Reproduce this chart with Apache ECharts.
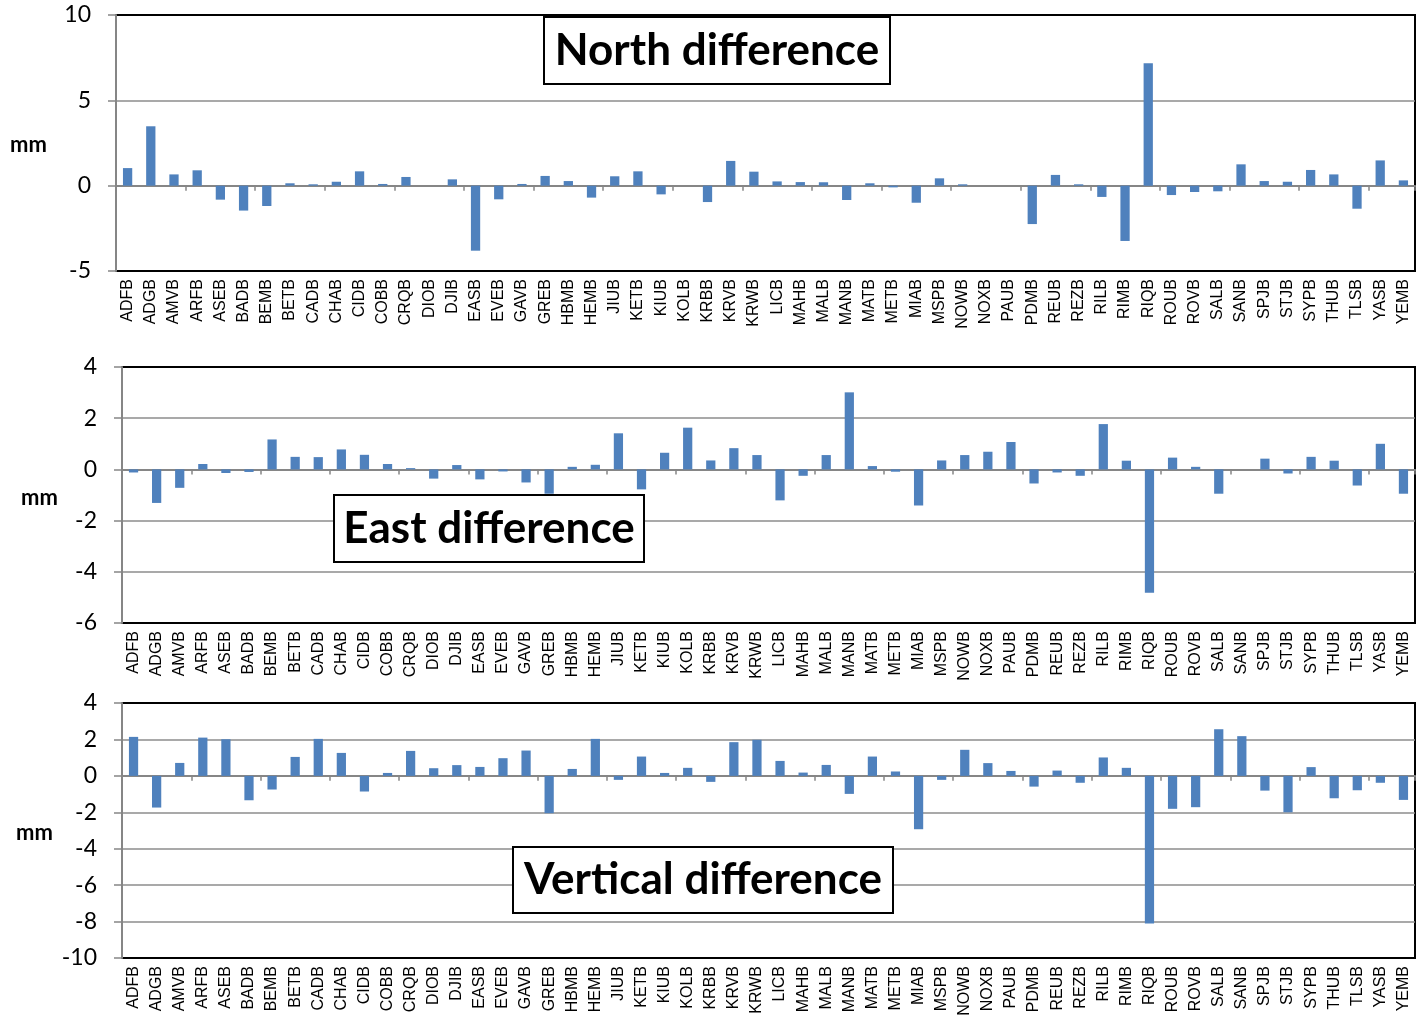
<!DOCTYPE html>
<html>
<head>
<meta charset="utf-8">
<script src="https://cdn.jsdelivr.net/npm/echarts@6/dist/echarts.min.js"></script>
<style>
html,body{margin:0;padding:0;background:#fff;}
#chart{width:1417px;height:1015px;}
</style>
</head>
<body>
<div id="chart"></div>
<script>
const categories = ['ADFB','ADGB','AMVB','ARFB','ASEB','BADB','BEMB','BETB','CADB','CHAB','CIDB','COBB','CRQB','DIOB','DJIB','EASB','EVEB','GAVB','GREB','HBMB','HEMB','JIUB','KETB','KIUB','KOLB','KRBB','KRVB','KRWB','LICB','MAHB','MALB','MANB','MATB','METB','MIAB','MSPB','NOWB','NOXB','PAUB','PDMB','REUB','REZB','RILB','RIMB','RIQB','ROUB','ROVB','SALB','SANB','SPJB','STJB','SYPB','THUB','TLSB','YASB','YEMB'];

const northDiff = [1.03,3.48,0.66,0.90,-0.82,-1.46,-1.19,0.14,0.08,0.23,0.84,0.10,0.51,0.00,0.37,-3.81,-0.80,0.10,0.57,0.27,-0.70,0.55,0.84,-0.51,0.00,-0.96,1.45,0.82,0.25,0.21,0.20,-0.84,0.14,-0.10,-1.00,0.43,0.08,0.00,0.00,-2.25,0.63,0.08,-0.66,-3.24,7.17,-0.55,-0.37,-0.33,1.25,0.27,0.23,0.92,0.66,-1.35,1.48,0.31];

const eastDiff = [-0.12,-1.31,-0.72,0.21,-0.14,-0.10,1.17,0.49,0.48,0.78,0.57,0.21,0.05,-0.36,0.17,-0.39,-0.08,-0.51,-0.95,0.10,0.18,1.41,-0.78,0.65,1.63,0.35,0.83,0.56,-1.21,-0.25,0.56,3.01,0.13,-0.09,-1.41,0.35,0.56,0.69,1.07,-0.55,-0.12,-0.25,1.77,0.34,-4.82,0.46,0.10,-0.95,0.00,0.42,-0.16,0.49,0.34,-0.63,1.00,-0.95];

const verticalDiff = [2.14,-1.74,0.71,2.10,2.01,-1.34,-0.75,1.04,2.03,1.26,-0.86,0.16,1.37,0.42,0.59,0.49,0.97,1.39,-2.05,0.38,2.03,-0.22,1.06,0.16,0.44,-0.33,1.85,1.98,0.82,0.18,0.60,-0.99,1.06,0.24,-2.93,-0.22,1.43,0.70,0.27,-0.59,0.29,-0.38,1.01,0.44,-8.10,-1.81,-1.72,2.56,2.18,-0.81,-2.00,0.48,-1.23,-0.79,-0.38,-1.32];

const titles = ['North difference','East difference','Vertical difference'];
const yMin = [-5,-6,-10];
const yMax = [10,4,4];
const yInterval = [5,2,2];
const unitLabel = 'mm';

const seriesData = [northDiff, eastDiff, verticalDiff];

const grids = [
  {left:116, right:2, top:15, height:256},
  {left:122, right:2, top:367, height:256},
  {left:122, right:2, top:703, height:255}
];
const boxes = [
  {x:544, y:17, w:346, h:67},
  {x:334, y:495, w:310, h:67},
  {x:513, y:847, w:380, h:66}
];
const mmPos = [[10,145],[21,498],[16,833]];

const grayAxis = '#868686';
const gridOpt = [], xAxes = [], yAxes = [], series = [], graphics = [];

for (let i = 0; i < 3; i++) {
  gridOpt.push(Object.assign({show:true, borderColor:'#000', borderWidth:2, backgroundColor:'transparent', containLabel:false, outerBoundsMode:'none'}, grids[i]));
  xAxes.push({
    type:'category', gridIndex:i, data:categories, position:'bottom',
    axisLine:{show:false, onZero:false}, axisTick:{show:false},
    axisLabel:{rotate:90, interval:0, margin:8, fontFamily:'Liberation Sans, Arial, sans-serif', fontSize:16, color:'#000'},
    splitLine:{show:false}
  });
  xAxes.push({
    type:'category', gridIndex:i, data:categories, position:'top',
    axisLine:{show:true, onZero:true, lineStyle:{color:grayAxis, width:2}},
    axisTick:{show:true, inside:true, length:5, lineStyle:{color:grayAxis, width:1.5}},
    axisLabel:{show:false}, splitLine:{show:false}
  });
  yAxes.push({
    type:'value', gridIndex:i, min:yMin[i], max:yMax[i], interval:yInterval[i],
    axisLine:{show:true, lineStyle:{color:grayAxis, width:2}},
    axisTick:{show:true, length:8, lineStyle:{color:grayAxis, width:1.5}},
    axisLabel:{margin:25, fontFamily:'Lato, sans-serif', fontSize:23, color:'#000'},
    splitLine:{show:true, showMinLine:false, showMaxLine:false, lineStyle:{color:'#8c8c8c', width:1.5}}
  });
  series.push({
    type:'bar', xAxisIndex:i*2, yAxisIndex:i, data:seriesData[i],
    barWidth:'40%', itemStyle:{color:'#4f81bd'}, silent:true, z:2
  });
  graphics.push({
    type:'rect', z:100, shape:{x:boxes[i].x, y:boxes[i].y, width:boxes[i].w, height:boxes[i].h},
    style:{fill:'#fff', stroke:'#000', lineWidth:2}
  });
  graphics.push({
    type:'text', z:101, x:boxes[i].x + boxes[i].w/2, y:boxes[i].y + boxes[i].h/2,
    style:{text:titles[i], fontFamily:'Lato, sans-serif', fontWeight:'bold', fontSize:44, fill:'#000', align:'center', verticalAlign:'middle'}
  });
  graphics.push({
    type:'text', z:101, x:mmPos[i][0], y:mmPos[i][1],
    style:{text:unitLabel, fontFamily:'Lato, sans-serif', fontWeight:'bold', fontSize:22, fill:'#000', align:'left', verticalAlign:'middle'}
  });
}

const chart = echarts.init(document.getElementById('chart'), null, {renderer:'canvas'});
chart.setOption({
  animation:false,
  backgroundColor:'#fff',
  grid:gridOpt,
  xAxis:xAxes,
  yAxis:yAxes,
  series:series,
  graphic:graphics
});
</script>
</body>
</html>
